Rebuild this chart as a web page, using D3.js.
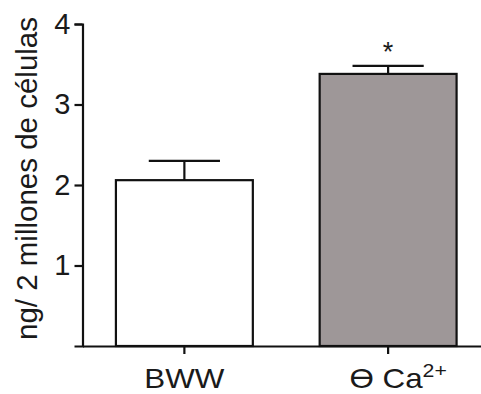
<!DOCTYPE html>
<html>
<head>
<meta charset="utf-8">
<script src="https://cdn.jsdelivr.net/npm/d3@7/dist/d3.min.js"></script>
<style>
  html, body { margin: 0; padding: 0; background: #fff; }
  svg { display: block; }
  text { font-family: "Liberation Sans", Arial, sans-serif; fill: #1a1a1a; }
</style>
</head>
<body>
<svg id="chart" width="481" height="394"></svg>
<script>
// Groups, means and upper error (mean + SEM)
const categories = ["BWW", "Ca"];
const means = [2.06, 3.38];
const errorTops = [2.30, 3.48];
const fills = ["#ffffff", "#9e9798"];
const significant = [false, true];
const yTicks = [1, 2, 3, 4];
const yLabel = "ng/ 2 millones de células";

const svg = d3.select("#chart");
const x0 = 82.5, x1 = 490, yBottom = 346, yTop = 24;

const x = d3.scaleBand()
  .domain(categories)
  .range([x0, x1])
  .paddingInner(0.328)
  .paddingOuter(0.164);

const y = d3.scaleLinear().domain([0, 4]).range([yBottom, yTop]);

// bars
svg.append("g").selectAll("rect")
  .data(categories)
  .join("rect")
  .attr("x", d => x(d))
  .attr("y", (d, i) => y(means[i]))
  .attr("width", x.bandwidth())
  .attr("height", (d, i) => y(0) - y(means[i]))
  .attr("fill", (d, i) => fills[i])
  .attr("stroke", "#111")
  .attr("stroke-width", 2.2);

// error bars (upper only)
const capHalf = x.bandwidth() * 0.26;
const eg = svg.append("g").attr("stroke", "#111").attr("stroke-width", 2.2);
categories.forEach((c, i) => {
  const cx = x(c) + x.bandwidth() / 2;
  eg.append("line").attr("x1", cx).attr("x2", cx)
    .attr("y1", y(means[i])).attr("y2", y(errorTops[i]));
  eg.append("line").attr("x1", cx - capHalf).attr("x2", cx + capHalf)
    .attr("y1", y(errorTops[i])).attr("y2", y(errorTops[i]));
  if (significant[i]) {
    svg.append("text")
      .attr("x", cx).attr("y", y(errorTops[i]) - 5)
      .attr("text-anchor", "middle")
      .attr("font-size", 27)
      .text("*");
  }
});

// y axis
const yAxis = svg.append("g")
  .attr("transform", `translate(${x0},0)`)
  .call(d3.axisLeft(y).tickValues(yTicks).tickSize(8).tickSizeOuter(8).tickPadding(4).tickFormat(d3.format("d")));
yAxis.select(".domain").attr("stroke", "#111").attr("stroke-width", 2.2);
yAxis.selectAll(".tick line").attr("stroke", "#111").attr("stroke-width", 2.2);
yAxis.selectAll(".tick text").attr("font-size", 29).attr("fill", "#1a1a1a")
  .style("font-family", "'Liberation Sans', Arial, sans-serif");

// x axis
const xAxis = svg.append("g")
  .attr("transform", `translate(0,${yBottom})`)
  .call(d3.axisBottom(x).tickSize(8).tickSizeOuter(0).tickFormat(""));
xAxis.select(".domain").attr("stroke", "#111").attr("stroke-width", 2.2);
xAxis.selectAll(".tick line").attr("stroke", "#111").attr("stroke-width", 2.2);

// x tick labels (slightly widened lettering)
const labelY = 388;
const widen = 1.12;
function xLabel(cx) {
  return svg.append("text")
    .attr("transform", `translate(${cx},${labelY}) scale(${widen},1)`)
    .attr("text-anchor", "middle")
    .attr("font-size", 28);
}
xLabel(x("BWW") + x.bandwidth() / 2).text("BWW");
const caLabel = xLabel(x("Ca") + x.bandwidth() / 2 + 10);
caLabel.append("tspan").text("\u03F4 Ca");
caLabel.append("tspan").attr("font-size", 19).attr("dy", -11).text("2+");

// y axis title
svg.append("text")
  .attr("transform", `translate(36.5,178.5) rotate(-90)`)
  .attr("text-anchor", "middle")
  .attr("font-size", 29.5)
  .text(yLabel);
</script>
</body>
</html>
